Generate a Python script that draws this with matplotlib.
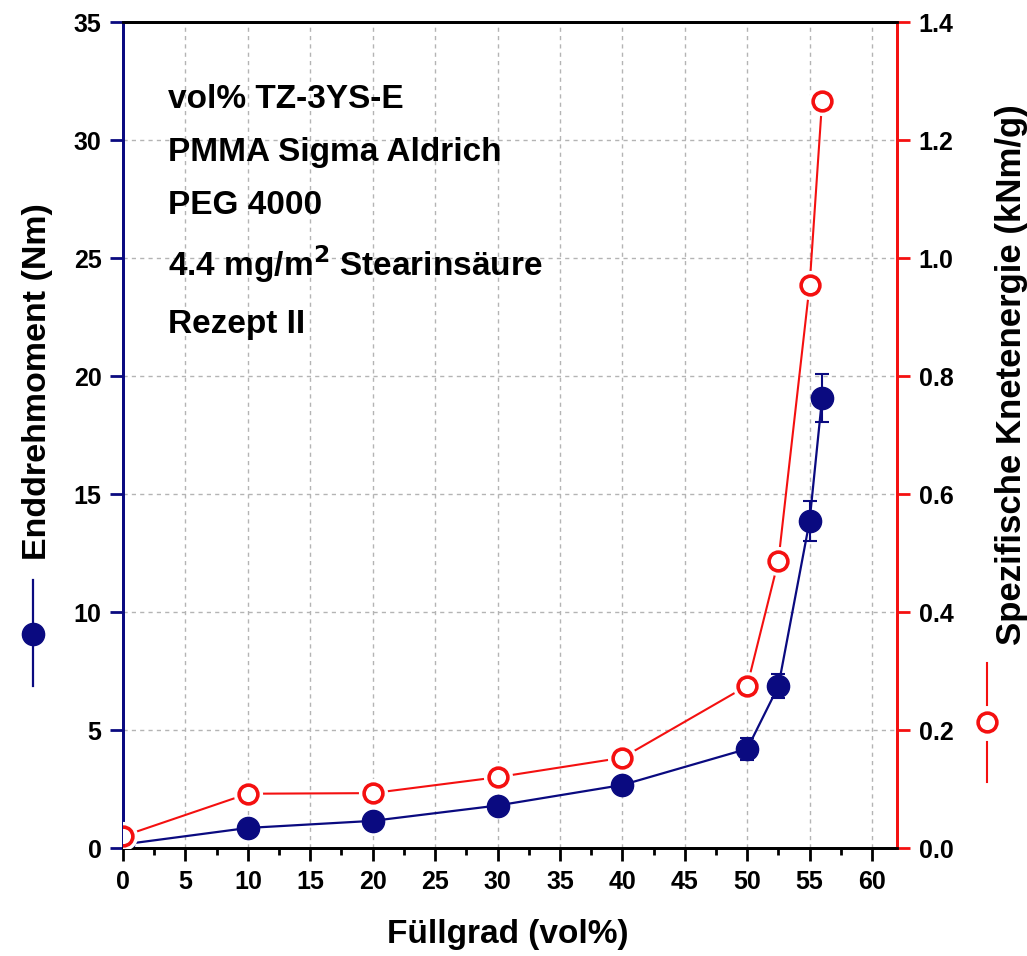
import matplotlib
matplotlib.use("Agg")
import matplotlib.pyplot as plt
from matplotlib.lines import Line2D
from matplotlib.ticker import MultipleLocator, FormatStrFormatter

plt.rcParams['font.family'] = ['Liberation Sans', 'DejaVu Sans']
plt.rcParams['font.weight'] = 'bold'

# Füllgrad (vol%)
fuellgrad = [0, 10, 20, 30, 40, 50, 52.5, 55, 56]
# Enddrehmoment (Nm) with standard deviation
drehmoment = [0.15, 0.85, 1.15, 1.8, 2.67, 4.2, 6.86, 13.86, 19.07]
drehmoment_err = [0.05, 0.1, 0.1, 0.1, 0.15, 0.45, 0.5, 0.85, 1.03]
# Spezifische Knetenergie (kNm/g)
knetenergie = [0.02, 0.092, 0.093, 0.12, 0.153, 0.275, 0.487, 0.954, 1.266]

annotation_lines = [
    "vol% TZ-3YS-E",
    "PMMA Sigma Aldrich",
    "PEG 4000",
    r"4.4 mg/m$^\mathbf{2}$ Stearinsäure",
    "Rezept II",
]

NAVY = '#0a0a80'
RED = '#f41010'

W, H = 1027, 956
fig = plt.figure(figsize=(W / 100, H / 100), dpi=100)
ax = fig.add_axes([123 / W, 108 / H, 774 / W, 826 / H])
ax2 = ax.twinx()

# left axis: torque
ax.set_xlim(0, 62)
ax.set_ylim(0, 35)
ax.xaxis.set_major_locator(MultipleLocator(5))
ax.xaxis.set_minor_locator(MultipleLocator(2.5))
ax.yaxis.set_major_locator(MultipleLocator(5))
ax.grid(True, which='major', color='#b4b4b4', linestyle=(0, (3, 3)), linewidth=1.0)
ax.set_axisbelow(True)

ax.errorbar(fuellgrad, drehmoment, yerr=drehmoment_err, color=NAVY, lw=1.6,
            marker='o', ms=16, mfc=NAVY, mec=NAVY, capsize=5, capthick=1.5,
            elinewidth=1.5, zorder=3, clip_on=True)

# right axis: kneading energy
ax2.set_ylim(0, 1.4)
ax2.yaxis.set_major_locator(MultipleLocator(0.2))
ax2.yaxis.set_major_formatter(FormatStrFormatter('%.1f'))
ax2.plot(fuellgrad, knetenergie, color=RED, lw=1.5, zorder=2, clip_on=True)
ax2.plot(fuellgrad, knetenergie, ls='none', marker='o', ms=21, mfc='white',
         mec='white', mew=0, zorder=3, clip_on=True)
ax2.plot(fuellgrad, knetenergie, ls='none', marker='o', ms=13.5, mfc='white',
         mec=RED, mew=2.6, zorder=4, clip_on=True)

# spines and ticks
for a in (ax, ax2):
    for s in a.spines.values():
        s.set_linewidth(2)
    a.spines['top'].set_color('black')
    a.spines['bottom'].set_color('black')
    a.spines['left'].set_color(NAVY)
    a.spines['right'].set_color(RED)

ax.tick_params(axis='x', which='major', direction='out', length=9, width=2,
               color='black', labelsize=18, pad=7)
ax.tick_params(axis='x', which='minor', direction='out', length=5, width=2,
               color='black')
ax.tick_params(axis='y', which='major', direction='out', length=9.5, width=2,
               color=NAVY, labelsize=18, pad=6)
ax2.tick_params(axis='y', which='major', direction='out', length=9.5, width=2,
                color=RED, labelsize=18, pad=6)
for lab in ax.get_xticklabels() + ax.get_yticklabels() + ax2.get_yticklabels():
    lab.set_fontweight('bold')

# annotation block
y0 = 100
for i, line in enumerate(annotation_lines):
    yy = y0 + i * 53 + (5 if i >= 3 else 0) + (7 if i == 4 else 0)
    fig.text(168 / W, 1 - yy / H, line, fontsize=24, fontweight='bold',
             ha='left', va='center')

# axis titles
fig.text(508 / W, 1 - 935 / H, "Füllgrad (vol%)", fontsize=24,
         fontweight='bold', ha='center', va='center')
fig.text(38 / W, 1 - 382 / H, "Enddrehmoment (Nm)", fontsize=24.5,
         fontweight='bold', rotation=90, ha='center', va='center')
fig.text(1011 / W, 1 - 375 / H, "Spezifische Knetenergie (kNm/g)", fontsize=25,
         fontweight='bold', rotation=90, ha='center', va='center')

# series symbols next to the axis titles
def fy(p):
    return 1 - p / H

fig.add_artist(Line2D([33 / W, 33 / W], [fy(580), fy(686)], color=NAVY, lw=1.6))
fig.add_artist(Line2D([33 / W], [fy(634)], marker='o', ms=16, color=NAVY, ls='none'))
fig.add_artist(Line2D([987 / W, 987 / W], [fy(663), fy(705)], color=RED, lw=1.5))
fig.add_artist(Line2D([987 / W, 987 / W], [fy(742), fy(782)], color=RED, lw=1.5))
fig.add_artist(Line2D([987 / W], [fy(722)], marker='o', ms=13.5, mfc='white',
                      mec=RED, mew=2.6, ls='none'))

fig.savefig("out.png", dpi=100)
